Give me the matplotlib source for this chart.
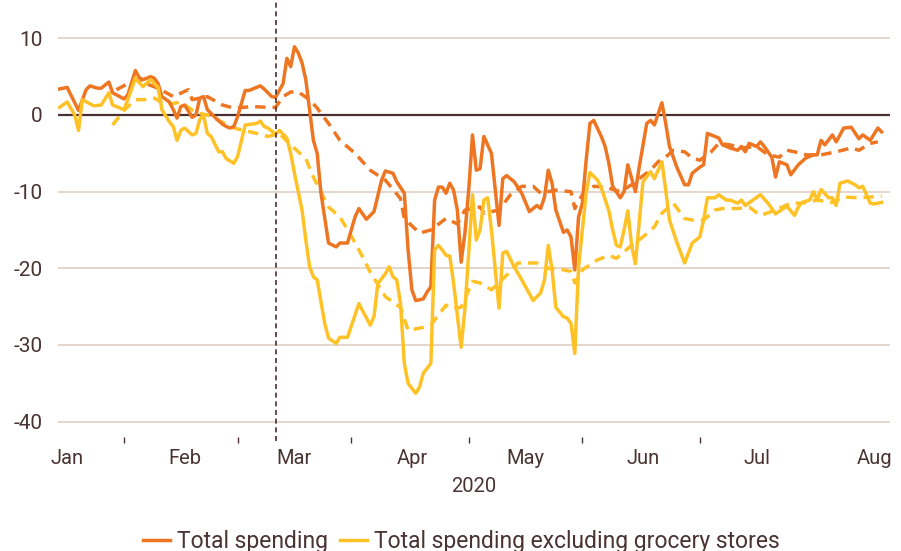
import numpy as np
import matplotlib
matplotlib.use("Agg")
import matplotlib.pyplot as plt

plt.rcParams['font.family'] = ['Roboto', 'DejaVu Sans']
plt.rcParams['axes.unicode_minus'] = False

# day offsets from 1 Jan 2020, values in %
tot_days = [-2, 0, 3, 5, 6, 8, 9, 11, 12, 15, 16, 18, 19, 20, 22, 23, 24, 25, 27, 28, 29, 30, 31, 33, 34,
            35, 36, 37, 39, 41, 42, 43, 44, 45, 47, 48, 51, 52, 54, 55, 57, 58, 59, 60, 61, 62, 63, 64, 65,
            66, 67, 69, 71, 72, 74, 76, 77, 79, 81, 83, 84, 86, 87, 89, 90, 91, 92, 94, 95, 96, 97, 98, 99,
            100, 101, 102, 103, 104, 105, 106, 107, 108, 109, 110, 112, 114, 115, 116, 118, 120, 122, 124,
            125, 126, 127, 128, 129, 131, 132, 133, 134, 135, 136, 137, 138, 139, 141, 142, 143, 144, 146,
            147, 148, 150, 151, 153, 154, 155, 157, 158, 159, 161, 163, 164, 165, 167, 168, 169, 171, 172,
            173, 175, 177, 178, 179, 180, 182, 183, 184, 186, 187, 188, 190, 191, 193, 195, 197, 198, 199,
            200, 202, 203, 205, 207, 209, 210, 212, 214, 215]
tot_vals = [3.4, 3.6, 0.6, 3.3, 3.8, 3.5, 3.5, 4.3, 2.9, 2.1, 2.6, 5.8, 4.9, 4.6, 5.0, 4.8, 4.1, 2.4, 1.7,
            0.7, -0.4, 1.1, 1.3, -0.3, 0.0, 2.2, 2.4, 0.7, -0.3, -1.2, -1.5, -1.7, -1.5, -0.2, 3.2, 3.2,
            3.8, 3.4, 2.4, 2.3, 4.1, 7.4, 6.3, 8.9, 8.1, 6.8, 4.6, 0.6, -3.3, -5.0, -10.2, -16.7, -17.2,
            -16.7, -16.7, -13.3, -12.2, -13.6, -12.6, -8.5, -7.3, -7.6, -8.7, -10.2, -17.6, -22.8, -24.2,
            -24.0, -23.1, -22.4, -11.1, -9.4, -9.4, -10.2, -8.9, -9.8, -12.4, -19.2, -15.4, -9.8, -2.6,
            -7.2, -7.0, -2.8, -5.0, -14.4, -8.3, -7.9, -8.7, -10.2, -12.6, -11.8, -12.2, -10.7, -7.2, -8.9,
            -12.4, -15.3, -15.0, -15.9, -20.2, -13.3, -11.5, -5.9, -1.1, -0.7, -2.8, -4.1, -6.3, -9.3,
            -10.8, -10.0, -6.5, -10.0, -6.8, -1.1, -0.7, -1.3, 1.6, -1.1, -4.1, -6.9, -9.1, -9.1, -7.6,
            -6.8, -6.5, -2.4, -2.8, -3.0, -3.9, -4.3, -4.6, -4.1, -4.8, -3.7, -4.1, -3.5, -4.1, -5.5, -8.1,
            -6.1, -6.5, -7.8, -6.5, -5.6, -5.2, -5.2, -3.3, -3.9, -2.6, -3.5, -1.7, -1.6, -3.1, -2.6, -3.3,
            -1.7, -2.2]

tot_avg_days = [13, 18, 24, 28, 32, 33, 37, 41, 44, 49, 53, 55, 57, 59, 61, 64, 66, 69, 72, 76, 80, 84, 88,
                89, 93, 96, 100, 103, 105, 109, 110, 114, 117, 120, 123, 125, 129, 133, 134, 136, 139, 142,
                146, 149, 151, 154, 156, 158, 160, 163, 165, 167, 170, 172, 175, 178, 182, 185, 188, 190,
                192, 195, 199, 203, 207, 209, 212, 214]
tot_avg_vals = [3.3, 4.6, 3.5, 2.4, 3.3, 2.0, 2.4, 1.3, 0.9, 1.1, 1.0, 1.0, 2.4, 3.0, 3.0, 2.0, 0.9, -1.1,
                -3.3, -5.0, -7.2, -8.5, -10.9, -13.5, -15.4, -15.0, -13.5, -14.2, -12.4, -12.0, -12.8, -12.4,
                -10.4, -9.3, -9.3, -10.2, -9.8, -10.0, -12.2, -10.4, -9.3, -9.4, -10.0, -9.1, -8.3, -7.2,
                -6.1, -5.5, -4.6, -4.8, -5.6, -5.9, -4.8, -3.7, -3.9, -4.3, -4.1, -5.2, -5.5, -4.6, -4.8,
                -5.2, -5.2, -4.8, -4.3, -4.6, -3.7, -3.5]

exg_days = [-2, 0, 2, 3, 4, 7, 9, 11, 12, 15, 16, 18, 20, 22, 24, 25, 27, 28, 29, 30, 31, 33, 34, 35, 36,
            37, 38, 40, 41, 42, 44, 45, 47, 50, 51, 52, 53, 55, 56, 58, 59, 60, 62, 63, 64, 65, 66, 68, 69,
            71, 72, 74, 77, 80, 81, 82, 84, 85, 86, 87, 88, 89, 90, 92, 93, 94, 96, 97, 98, 99, 100, 101,
            102, 104, 105, 106, 107, 108, 109, 110, 111, 112, 114, 115, 116, 118, 120, 121, 123, 125, 126,
            127, 128, 129, 131, 132, 133, 134, 135, 136, 137, 138, 140, 141, 143, 144, 145, 146, 147, 148,
            149, 150, 152, 154, 155, 157, 158, 159, 161, 163, 165, 167, 168, 169, 171, 172, 174, 175, 177,
            178, 179, 181, 183, 185, 187, 189, 190, 192, 193, 194, 196, 197, 198, 199, 201, 202, 203, 204,
            206, 208, 209, 210, 212, 213, 215]
exg_vals = [1.0, 1.7, 0.0, -2.0, 2.0, 1.2, 1.3, 2.9, 1.3, 0.7, 2.0, 4.8, 3.7, 4.6, 3.6, 0.7, -0.9, -1.5,
            -3.3, -2.0, -1.7, -2.6, -2.4, -0.6, 0.0, -2.4, -2.8, -4.8, -4.8, -5.7, -6.3, -5.4, -1.3, -1.1,
            -0.8, -1.5, -1.7, -2.5, -2.0, -3.0, -5.0, -7.6, -12.4, -16.3, -19.8, -21.1, -21.5, -27.2, -29.1,
            -29.8, -29.0, -29.0, -24.6, -27.4, -26.3, -22.0, -20.7, -19.8, -21.1, -21.5, -24.6, -32.4,
            -35.0, -36.3, -35.5, -33.7, -32.4, -17.6, -17.0, -17.6, -18.3, -18.4, -21.9, -30.3, -25.3,
            -18.0, -10.4, -16.3, -15.0, -11.1, -10.8, -15.0, -25.2, -18.0, -17.8, -19.8, -21.5, -22.4,
            -24.2, -23.2, -21.5, -17.0, -20.2, -25.1, -26.3, -26.5, -27.2, -31.1, -19.8, -15.0, -10.2,
            -7.5, -8.5, -9.5, -12.5, -15.0, -17.0, -17.2, -15.0, -12.5, -17.0, -19.4, -8.7, -7.4, -8.3,
            -6.1, -9.8, -13.7, -16.7, -19.3, -16.7, -15.9, -13.7, -10.8, -10.8, -10.4, -11.1, -11.1, -11.5,
            -11.1, -11.8, -11.1, -10.4, -11.5, -12.9, -12.2, -11.9, -13.1, -12.0, -11.4, -11.1, -10.0,
            -11.1, -9.7, -10.8, -10.8, -11.8, -8.9, -8.6, -9.1, -9.5, -9.3, -11.5, -11.6, -11.4]

exg_avg_days = [12, 15, 18, 21, 23, 26, 30, 34, 37, 40, 44, 50, 53, 56, 59, 63, 65, 69, 72, 75, 78, 80, 84,
                88, 90, 94, 96, 100, 101, 104, 107, 109, 112, 116, 119, 124, 127, 131, 133, 134, 136, 140,
                143, 145, 149, 152, 155, 157, 160, 163, 165, 168, 171, 173, 177, 180, 183, 187, 191, 194,
                198, 202, 205, 209, 212, 215]
exg_avg_vals = [-1.3, 0.6, 2.0, 2.0, 2.2, 1.3, 1.7, 0.3, 0.0, -0.7, -1.7, -2.4, -2.8, -2.4, -3.9, -5.7,
                -8.1, -12.0, -13.3, -15.8, -18.5, -20.5, -23.7, -25.1, -28.1, -27.7, -27.4, -24.8, -25.2,
                -25.1, -21.7, -21.9, -22.8, -20.9, -19.3, -19.3, -20.0, -20.2, -20.4, -21.9, -20.2, -18.9,
                -18.3, -18.7, -17.0, -15.9, -14.6, -12.8, -11.5, -13.5, -13.7, -13.7, -12.4, -12.2, -12.2,
                -12.0, -13.1, -12.4, -11.5, -11.5, -11.1, -11.4, -10.7, -10.8, -10.7, -10.6]

month_labels = ['Jan', 'Feb', 'Mar', 'Apr', 'May', 'Jun', 'Jul', 'Aug']
marker_day = 55   # vertical dashed marker (25 Feb)

ORANGE = '#EE7623'
YELLOW = '#FFC226'
TEXT = '#4A3333'

start = np.datetime64('2020-01-01')
def to_dates(days):
    return start + np.array(days).astype('timedelta64[D]')

fig = plt.figure(figsize=(9.01, 5.51), dpi=100)
ax = fig.add_axes([58 / 901, 1 - 437 / 551, 832 / 901, 437 / 551])

for y in [-40, -30, -20, -10, 10]:
    ax.axhline(y, color='#E2D3C8', lw=1.3, zorder=0)
ax.axhline(0, color='#4A2F30', lw=1.6, zorder=1)

ax.plot(to_dates(tot_avg_days), tot_avg_vals, color=ORANGE, lw=2.5, dashes=(3.0, 2.0), zorder=3)
ax.plot(to_dates(exg_avg_days), exg_avg_vals, color=YELLOW, lw=2.5, dashes=(3.0, 2.0), zorder=3)
ax.plot(to_dates(tot_days), tot_vals, color=ORANGE, lw=2.5, label='Total spending', zorder=4)
ax.plot(to_dates(exg_days), exg_vals, color=YELLOW, lw=2.5,
        label='Total spending excluding grocery stores', zorder=4)

ax.axvline(to_dates([marker_day])[0], color='#4A2F30', lw=1.2, dashes=(3, 2.2), zorder=5,
           ymin=-0.01, clip_on=False)

ax.set_xlim(start - np.timedelta64(58, 'h'), start + np.timedelta64(217 * 24 + 5, 'h'))
ax.set_ylim(-42, 15)

month_starts = np.arange('2020-01', '2020-09', dtype='datetime64[M]').astype('datetime64[D]')
ax.set_xticks(month_starts)
ax.set_xticklabels(month_labels)
mids = month_starts[:-2] + (month_starts[1:-1] - month_starts[:-2]) / 2
ax.set_xticks(mids, minor=True)
ax.tick_params(axis='x', which='major', length=0, pad=9, labelsize=14.5, labelcolor=TEXT)
ax.tick_params(axis='x', which='minor', length=4, width=1, color=TEXT, direction='out')

ax.set_yticks([-40, -30, -20, -10, 0, 10])
ax.tick_params(axis='y', length=0, pad=11, labelsize=15, labelcolor=TEXT)
for s in ax.spines.values():
    s.set_visible(False)

ax.set_xlabel('2020', fontsize=14.5, color=TEXT, labelpad=6)

fig.legend(loc='center', bbox_to_anchor=(0.512, 0.018), ncol=2, frameon=False,
           fontsize=16.5, labelcolor=TEXT, handlelength=1.2, handletextpad=0.3, columnspacing=0.5)

fig.savefig('out.png', dpi=100)
